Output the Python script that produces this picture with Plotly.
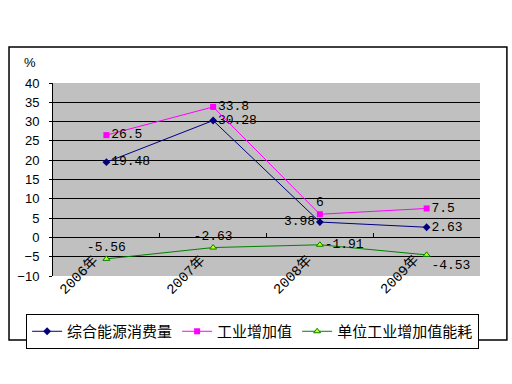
import plotly.graph_objects as go

years = ["2006年", "2007年", "2008年", "2009年"]
energy = [19.48, 30.28, 3.98, 2.63]
industry = [26.5, 33.8, 6, 7.5]
unit_energy = [-5.56, -2.63, -1.91, -4.53]
names = ["综合能源消费量", "工业增加值", "单位工业增加值能耗"]

num_font = dict(family="Liberation Mono, DejaVu Sans Mono, monospace", size=13, color="black")

fig = go.Figure()
fig.add_trace(go.Scatter(
    x=years, y=energy, name=names[0], mode="lines+markers+text",
    line=dict(color="#000080", width=1),
    marker=dict(symbol="diamond", size=6, color="#000080"),
    text=[str(v) for v in energy],
    textposition=["middle right", "middle right", "middle left", "middle right"],
    textfont=num_font,
))
fig.add_trace(go.Scatter(
    x=years, y=industry, name=names[1], mode="lines+markers+text",
    line=dict(color="#FF00FF", width=1),
    marker=dict(symbol="square", size=6, color="#FF00FF"),
    text=[str(v) for v in industry],
    textposition=["middle right", "middle right", "top center", "middle right"],
    textfont=num_font,
))
fig.add_trace(go.Scatter(
    x=years, y=unit_energy, name=names[2], mode="lines+markers+text",
    line=dict(color="#008000", width=1),
    marker=dict(symbol="triangle-up", size=6, color="#CCFF00", line=dict(color="#008000", width=1)),
    text=[str(v) for v in unit_energy],
    textposition=["top center", "top center", "middle right", "bottom right"],
    textfont=num_font,
))

for y in years:
    fig.add_annotation(
        x=y, y=-10, xref="x", yref="y", text=y, showarrow=False,
        textangle=-45, xshift=-27, yshift=1,
        font=dict(family="Liberation Mono, Noto Sans CJK SC", size=14, color="black"),
    )

fig.add_annotation(
    x=-0.054, y=1.104, xref="paper", yref="paper", text="%", showarrow=False,
    xanchor="center", yanchor="middle",
    font=dict(family="Liberation Sans, Arial", size=13, color="black"),
)

fig.add_shape(
    type="rect", xref="paper", yref="paper",
    x0=-0.103, x1=1.063, y0=-0.332, y1=1.187,
    line=dict(color="black", width=1.5), fillcolor="rgba(0,0,0,0)",
)

fig.update_layout(
    width=512, height=384,
    margin=dict(l=53, r=32, t=83, b=108),
    paper_bgcolor="white", plot_bgcolor="#C0C0C0",
    showlegend=True,
    legend=dict(
        orientation="h", x=-0.063, xanchor="left", y=-0.197, yanchor="top",
        bordercolor="black", borderwidth=1, bgcolor="white",
        font=dict(family="Noto Sans CJK SC", size=15, color="black"),
    ),
    xaxis=dict(
        type="category", range=[-0.5, 3.5], anchor="free", position=0.2,
        showticklabels=False, ticks="inside", ticklen=4, tickcolor="black",
        tickson="boundaries", showgrid=False, showline=False, zeroline=False,
    ),
    yaxis=dict(
        range=[-10, 40], dtick=5, showgrid=True, gridcolor="black", gridwidth=1,
        showline=True, linecolor="black", linewidth=1, ticks="outside", ticklen=3,
        tickcolor="black", zeroline=True, zerolinecolor="black", zerolinewidth=1,
        ticklabelstandoff=7,
        tickfont=dict(family="Liberation Sans, Arial", size=13, color="black"),
    ),
)

fig.write_html("out.html")
